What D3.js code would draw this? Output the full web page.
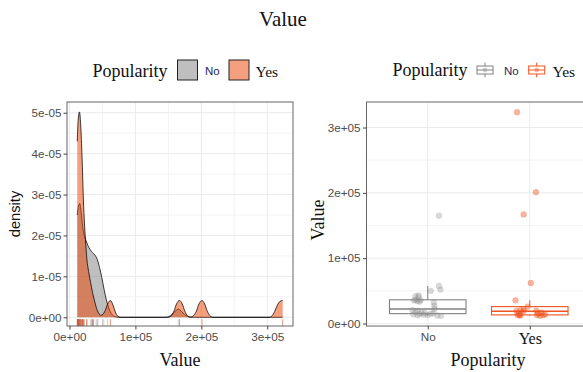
<!DOCTYPE html>
<html>
<head>
<meta charset="utf-8">
<script src="https://cdn.jsdelivr.net/npm/d3@7"></script>
<style>
  body { margin: 0; background: #fff; }
  svg { display: block; }
</style>
</head>
<body>
<svg id="chart" width="583" height="372"></svg>
<script>
// ---- data ----
const groups = ["No", "Yes"];

// observed values for each popularity group
const valuesNo = [11800, 12300, 12700, 13200, 13600, 14000, 14500, 15100, 15600, 16200,
                  16800, 17600, 19000, 20500, 22300, 27000, 32000, 33500, 34400, 35300,
                  35800, 36300, 40500, 42000, 43000, 50000, 52000, 57500, 165000];
const valuesYes = [11900, 12200, 12500, 12800, 13000, 13200, 14000, 14800, 15600, 16800,
                   18700, 19200, 19800, 20500, 21800, 25900, 35500, 62000, 167000, 201000, 323500];

// horizontal jitter of each point, as a share of the category spacing
const jitterNo = [0.13, 0.095, -0.10, 0.00, -0.04, -0.14, -0.08, 0.03, 0.055, -0.03,
                  -0.06, -0.12, -0.10, -0.15, 0.065, 0.065, 0.06, -0.08, -0.10, -0.135,
                  -0.07, -0.12, -0.09, -0.12, -0.09, 0.03, 0.125, 0.11, 0.11];
const jitterYes = [0.10, -0.10, 0.13, -0.09, 0.07, -0.12, 0.15, -0.105, 0.08, 0.115,
                   -0.06, -0.13, 0.065, -0.09, -0.06, -0.02, -0.14, 0.01, -0.06, 0.06, -0.125];

// kernel density estimates, [value, density]
const densityNo = [
  [11800, 2.50e-5], [13600, 2.72e-5], [15600, 2.78e-5], [17600, 2.58e-5], [20000, 2.22e-5],
  [22500, 2.00e-5], [25000, 1.88e-5], [28000, 1.75e-5], [31500, 1.65e-5], [35000, 1.58e-5],
  [38500, 1.52e-5], [42000, 1.42e-5], [45500, 1.22e-5], [49000, 0.97e-5], [52500, 0.68e-5],
  [56000, 0.42e-5], [59500, 0.23e-5], [63000, 0.10e-5], [67000, 0.03e-5], [72000, 0.005e-5],
  [78000, 0], [146000, 0], [151000, 0.02e-5], [155500, 0.07e-5], [160000, 0.14e-5],
  [165000, 0.20e-5], [170000, 0.14e-5], [174500, 0.07e-5], [179000, 0.02e-5], [184000, 0],
  [323500, 0]
];
const densityYes = [
  [11800, 4.30e-5], [13300, 4.85e-5], [15100, 5.02e-5], [17300, 4.60e-5], [19300, 3.80e-5],
  [21100, 2.87e-5], [22700, 2.30e-5], [24200, 1.90e-5], [26500, 1.40e-5], [29000, 1.12e-5],
  [32000, 0.85e-5], [35000, 0.60e-5], [38000, 0.40e-5], [41000, 0.22e-5], [44300, 0.10e-5],
  [47500, 0.05e-5], [50500, 0.07e-5], [54000, 0.16e-5], [58000, 0.33e-5], [62000, 0.41e-5],
  [66000, 0.30e-5], [69500, 0.13e-5], [73000, 0.03e-5], [77000, 0], [150000, 0],
  [154500, 0.04e-5], [158500, 0.15e-5], [162500, 0.33e-5], [166800, 0.41e-5], [171000, 0.33e-5],
  [175000, 0.15e-5], [179000, 0.04e-5], [184000, 0.005e-5], [188000, 0.04e-5], [192500, 0.15e-5],
  [196500, 0.33e-5], [200800, 0.41e-5], [205000, 0.33e-5], [209000, 0.15e-5], [213000, 0.04e-5],
  [218000, 0], [303000, 0], [307500, 0.04e-5], [311500, 0.15e-5], [315500, 0.30e-5],
  [319500, 0.39e-5], [323500, 0.41e-5]
];

const valueTicks = [0, 1e5, 2e5, 3e5];
const valueTickLabels = ["0e+00", "1e+05", "2e+05", "3e+05"];
const valueMinor = [5e4, 1.5e5, 2.5e5];
const densityTicks = [0, 1e-5, 2e-5, 3e-5, 4e-5, 5e-5];
const densityTickLabels = ["0e+00", "1e-05", "2e-05", "3e-05", "4e-05", "5e-05"];
const densityMinor = [0.5e-5, 1.5e-5, 2.5e-5, 3.5e-5, 4.5e-5];

// ---- styling ----
const SERIF = "'Liberation Serif','Times New Roman',serif";
const SANS = "'Liberation Sans',Arial,sans-serif";
const fills = { No: "#808080", Yes: "#E94100" };
const lines = { No: "#808080", Yes: "#F2541F" };
const dots = { No: "#8c8c8c", Yes: "#F0501A" };
const labelInk = { No: "#27275e", Yes: "#111" };

const svg = d3.select("#chart");

// title
svg.append("text").attr("x", 283).attr("y", 26).attr("text-anchor", "middle")
  .style("font-family", SERIF).style("font-size", "21px").attr("fill", "#111").text("Value");

const allValues = valuesNo.concat(valuesYes);
const vMin = d3.min(allValues), vMax = d3.max(allValues), pad = (vMax - vMin) * 0.05;

// ================= density panel =================
const L = { x0: 67, x1: 293, y0: 102, y1: 326 };
const xL = d3.scaleLinear().domain([vMin - pad, vMax + pad]).range([L.x0, L.x1]);
const yL = d3.scaleLinear().domain([-0.213e-5, 5.262e-5]).range([L.y1, L.y0]);

const gL = svg.append("g");
const gridL = gL.append("g");
valueMinor.forEach(v => gridL.append("line").attr("x1", xL(v)).attr("x2", xL(v)).attr("y1", L.y0).attr("y2", L.y1)
  .attr("stroke", "#F3F3F3").attr("stroke-width", 1));
densityMinor.forEach(v => gridL.append("line").attr("y1", yL(v)).attr("y2", yL(v)).attr("x1", L.x0).attr("x2", L.x1)
  .attr("stroke", "#F3F3F3").attr("stroke-width", 1));
valueTicks.forEach(v => gridL.append("line").attr("x1", xL(v)).attr("x2", xL(v)).attr("y1", L.y0).attr("y2", L.y1)
  .attr("stroke", "#EBEBEB").attr("stroke-width", 1));
densityTicks.forEach(v => gridL.append("line").attr("y1", yL(v)).attr("y2", yL(v)).attr("x1", L.x0).attr("x2", L.x1)
  .attr("stroke", "#EBEBEB").attr("stroke-width", 1));

svg.append("clipPath").attr("id", "clipL").append("rect")
  .attr("x", L.x0).attr("y", L.y0).attr("width", L.x1 - L.x0).attr("height", L.y1 - L.y0);
const plotL = gL.append("g").attr("clip-path", "url(#clipL)");

const area = d3.area().x(d => xL(d[0])).y0(yL(0)).y1(d => yL(d[1])).curve(d3.curveMonotoneX);
const upper = d3.line().x(d => xL(d[0])).y(d => yL(d[1])).curve(d3.curveMonotoneX);

[["No", densityNo], ["Yes", densityYes]].forEach(([g, dens]) => {
  plotL.append("path").attr("d", area(dens)).attr("fill", fills[g]).attr("fill-opacity", 0.5);
  plotL.append("path").attr("d", upper(dens)).attr("fill", "none").attr("stroke", "#000")
    .attr("stroke-width", 0.75).attr("stroke-linejoin", "round");
});

// rug
const rugTop = L.y1 - (L.y1 - L.y0) * 0.03;
[["No", valuesNo, "#9a9a9a", 0.6], ["Yes", valuesYes, "#D4532A", 0.75]].forEach(([g, vals, c, o]) => {
  plotL.append("g").selectAll("line").data(vals).join("line")
    .attr("x1", d => xL(d)).attr("x2", d => xL(d)).attr("y1", rugTop).attr("y2", L.y1)
    .attr("stroke", c).attr("stroke-opacity", o).attr("stroke-width", 0.8);
});

gL.append("rect").attr("x", L.x0).attr("y", L.y0).attr("width", L.x1 - L.x0).attr("height", L.y1 - L.y0)
  .attr("fill", "none").attr("stroke", "#666").attr("stroke-width", 1);

// axes
const axBL = gL.append("g").attr("transform", `translate(0,${L.y1})`)
  .call(d3.axisBottom(xL).tickValues(valueTicks).tickFormat((d, i) => valueTickLabels[i]).tickSize(3.5).tickPadding(3));
const axLL = gL.append("g").attr("transform", `translate(${L.x0},0)`)
  .call(d3.axisLeft(yL).tickValues(densityTicks).tickFormat((d, i) => densityTickLabels[i]).tickSize(3.5).tickPadding(2));
[axBL, axLL].forEach(a => {
  a.select(".domain").remove();
  a.selectAll(".tick line").attr("stroke", "#444");
  a.selectAll(".tick text").attr("fill", "#4D4D4D").style("font-family", SANS).style("font-size", "11.7px");
});

gL.append("text").attr("x", (L.x0 + L.x1) / 2).attr("y", 366).attr("text-anchor", "middle")
  .style("font-family", SERIF).style("font-size", "18px").attr("fill", "#111").text("Value");
gL.append("text").attr("transform", `translate(19.5,${(L.y0 + L.y1) / 2}) rotate(-90)`).attr("text-anchor", "middle")
  .style("font-family", SANS).style("font-size", "14.7px").attr("fill", "#111").text("density");

// legend (fill keys)
const legL = gL.append("g");
legL.append("text").attr("x", 92.5).attr("y", 76.5).style("font-family", SERIF).style("font-size", "18px")
  .attr("fill", "#111").text("Popularity");
const keyXL = { No: 177.5, Yes: 229 };
const labXL = { No: 205, Yes: 255.5 };
groups.forEach(g => {
  legL.append("rect").attr("x", keyXL[g]).attr("y", 60).attr("width", 20).attr("height", 20)
    .attr("fill", "#fff");
  legL.append("rect").attr("x", keyXL[g]).attr("y", 60).attr("width", 20).attr("height", 20)
    .attr("fill", fills[g]).attr("fill-opacity", 0.5).attr("stroke", "#222").attr("stroke-width", 1);
  legL.append("text").attr("x", labXL[g]).attr("y", g === "No" ? 75 : 77)
    .style("font-family", g === "No" ? SANS : SERIF).style("font-size", g === "No" ? "11.5px" : "15.5px")
    .attr("fill", labelInk[g]).text(g);
});

// ================= box plot panel =================
const R = { x0: 366.5, x1: 591, y0: 102, y1: 326 };
const xR = d3.scalePoint().domain(groups).range([R.x0, R.x1]).padding(0.6);
const step = xR.step();
const yR = d3.scaleLinear().domain([vMin - pad, vMax + pad]).range([R.y1, R.y0]);

const gR = svg.append("g");
const gridR = gR.append("g");
valueMinor.forEach(v => gridR.append("line").attr("y1", yR(v)).attr("y2", yR(v)).attr("x1", R.x0).attr("x2", R.x1)
  .attr("stroke", "#F3F3F3").attr("stroke-width", 1));
valueTicks.forEach(v => gridR.append("line").attr("y1", yR(v)).attr("y2", yR(v)).attr("x1", R.x0).attr("x2", R.x1)
  .attr("stroke", "#EBEBEB").attr("stroke-width", 1));
groups.forEach(g => gridR.append("line").attr("x1", xR(g)).attr("x2", xR(g)).attr("y1", R.y0).attr("y2", R.y1)
  .attr("stroke", "#EBEBEB").attr("stroke-width", 1));

const byGroup = { No: valuesNo, Yes: valuesYes };
const jitters = { No: jitterNo, Yes: jitterYes };
const boxW = step * 0.75;

groups.forEach(g => {
  const vals = byGroup[g].slice().sort(d3.ascending);
  const q1 = d3.quantile(vals, 0.25), med = d3.quantile(vals, 0.5), q3 = d3.quantile(vals, 0.75);
  const iqr = q3 - q1;
  const hi = d3.max(vals.filter(v => v <= q3 + 1.5 * iqr));
  const lo = d3.min(vals.filter(v => v >= q1 - 1.5 * iqr));
  const cx = xR(g);
  const bx = gR.append("g").attr("stroke", lines[g]).attr("fill", "none");
  bx.append("line").attr("x1", cx).attr("x2", cx).attr("y1", yR(q3)).attr("y2", yR(hi)).attr("stroke-width", 1);
  bx.append("line").attr("x1", cx).attr("x2", cx).attr("y1", yR(q1)).attr("y2", yR(lo)).attr("stroke-width", 1);
  bx.append("rect").attr("x", cx - boxW / 2).attr("y", yR(q3)).attr("width", boxW).attr("height", yR(q1) - yR(q3))
    .attr("fill", "#fff").attr("stroke-width", 1.1);
  bx.append("line").attr("x1", cx - boxW / 2).attr("x2", cx + boxW / 2).attr("y1", yR(med)).attr("y2", yR(med))
    .attr("stroke-width", 1.6);
});

groups.forEach(g => {
  gR.append("g").selectAll("circle").data(byGroup[g]).join("circle")
    .attr("cx", (d, i) => xR(g) + jitters[g][i] * step)
    .attr("cy", d => yR(d))
    .attr("r", 2.9)
    .attr("fill", dots[g])
    .attr("fill-opacity", g === "No" ? 0.32 : 0.42)
    .attr("stroke", dots[g])
    .attr("stroke-opacity", g === "No" ? 0.25 : 0.3)
    .attr("stroke-width", 0.6);
});

gR.append("rect").attr("x", R.x0).attr("y", R.y0).attr("width", R.x1 - R.x0).attr("height", R.y1 - R.y0)
  .attr("fill", "none").attr("stroke", "#666").attr("stroke-width", 1);

const axLR = gR.append("g").attr("transform", `translate(${R.x0},0)`)
  .call(d3.axisLeft(yR).tickValues(valueTicks).tickFormat((d, i) => valueTickLabels[i]).tickSize(3.5).tickPadding(2.5));
axLR.select(".domain").remove();
axLR.selectAll(".tick line").attr("stroke", "#444");
axLR.selectAll(".tick text").attr("fill", "#4D4D4D").style("font-family", SANS).style("font-size", "11.7px");

const axBR = gR.append("g").attr("transform", `translate(0,${R.y1})`)
  .call(d3.axisBottom(xR).tickSize(3.5).tickPadding(3));
axBR.select(".domain").remove();
axBR.selectAll(".tick line").attr("stroke", "#444");
axBR.selectAll(".tick text")
  .style("font-family", d => d === "No" ? SANS : SERIF)
  .style("font-size", d => d === "No" ? "11.7px" : "16px")
  .attr("fill", d => d === "No" ? "#4D4D4D" : "#111");

gR.append("text").attr("x", 488).attr("y", 366).attr("text-anchor", "middle")
  .style("font-family", SERIF).style("font-size", "18px").attr("fill", "#111").text("Popularity");
gR.append("text").attr("transform", `translate(324,220) rotate(-90)`).attr("text-anchor", "middle")
  .style("font-family", SERIF).style("font-size", "18px").attr("fill", "#111").text("Value");

// legend (box keys)
const legR = gR.append("g");
legR.append("text").attr("x", 392.5).attr("y", 76).style("font-family", SERIF).style("font-size", "18px")
  .attr("fill", "#111").text("Popularity");
const keyXR = { No: 485, Yes: 536.7 };
const labXR = { No: 504, Yes: 552.5 };
groups.forEach(g => {
  const cx = keyXR[g], cy = 70;
  const k = legR.append("g").attr("stroke", lines[g]).attr("fill", "none");
  k.append("line").attr("x1", cx).attr("x2", cx).attr("y1", cy - 7.3).attr("y2", cy - 4);
  k.append("line").attr("x1", cx).attr("x2", cx).attr("y1", cy + 4).attr("y2", cy + 7.3);
  k.append("rect").attr("x", cx - 8).attr("y", cy - 4).attr("width", 16).attr("height", 8).attr("stroke-width", 1);
  k.append("line").attr("x1", cx - 8).attr("x2", cx + 8).attr("y1", cy).attr("y2", cy).attr("stroke-width", 1);
  legR.append("circle").attr("cx", cx).attr("cy", cy).attr("r", 2.4)
    .attr("fill", dots[g]).attr("fill-opacity", 0.4);
  legR.append("text").attr("x", labXR[g]).attr("y", g === "No" ? 74.5 : 76.5)
    .style("font-family", g === "No" ? SANS : SERIF).style("font-size", g === "No" ? "11.5px" : "15.5px")
    .attr("fill", labelInk[g]).text(g);
});
</script>
</body>
</html>
